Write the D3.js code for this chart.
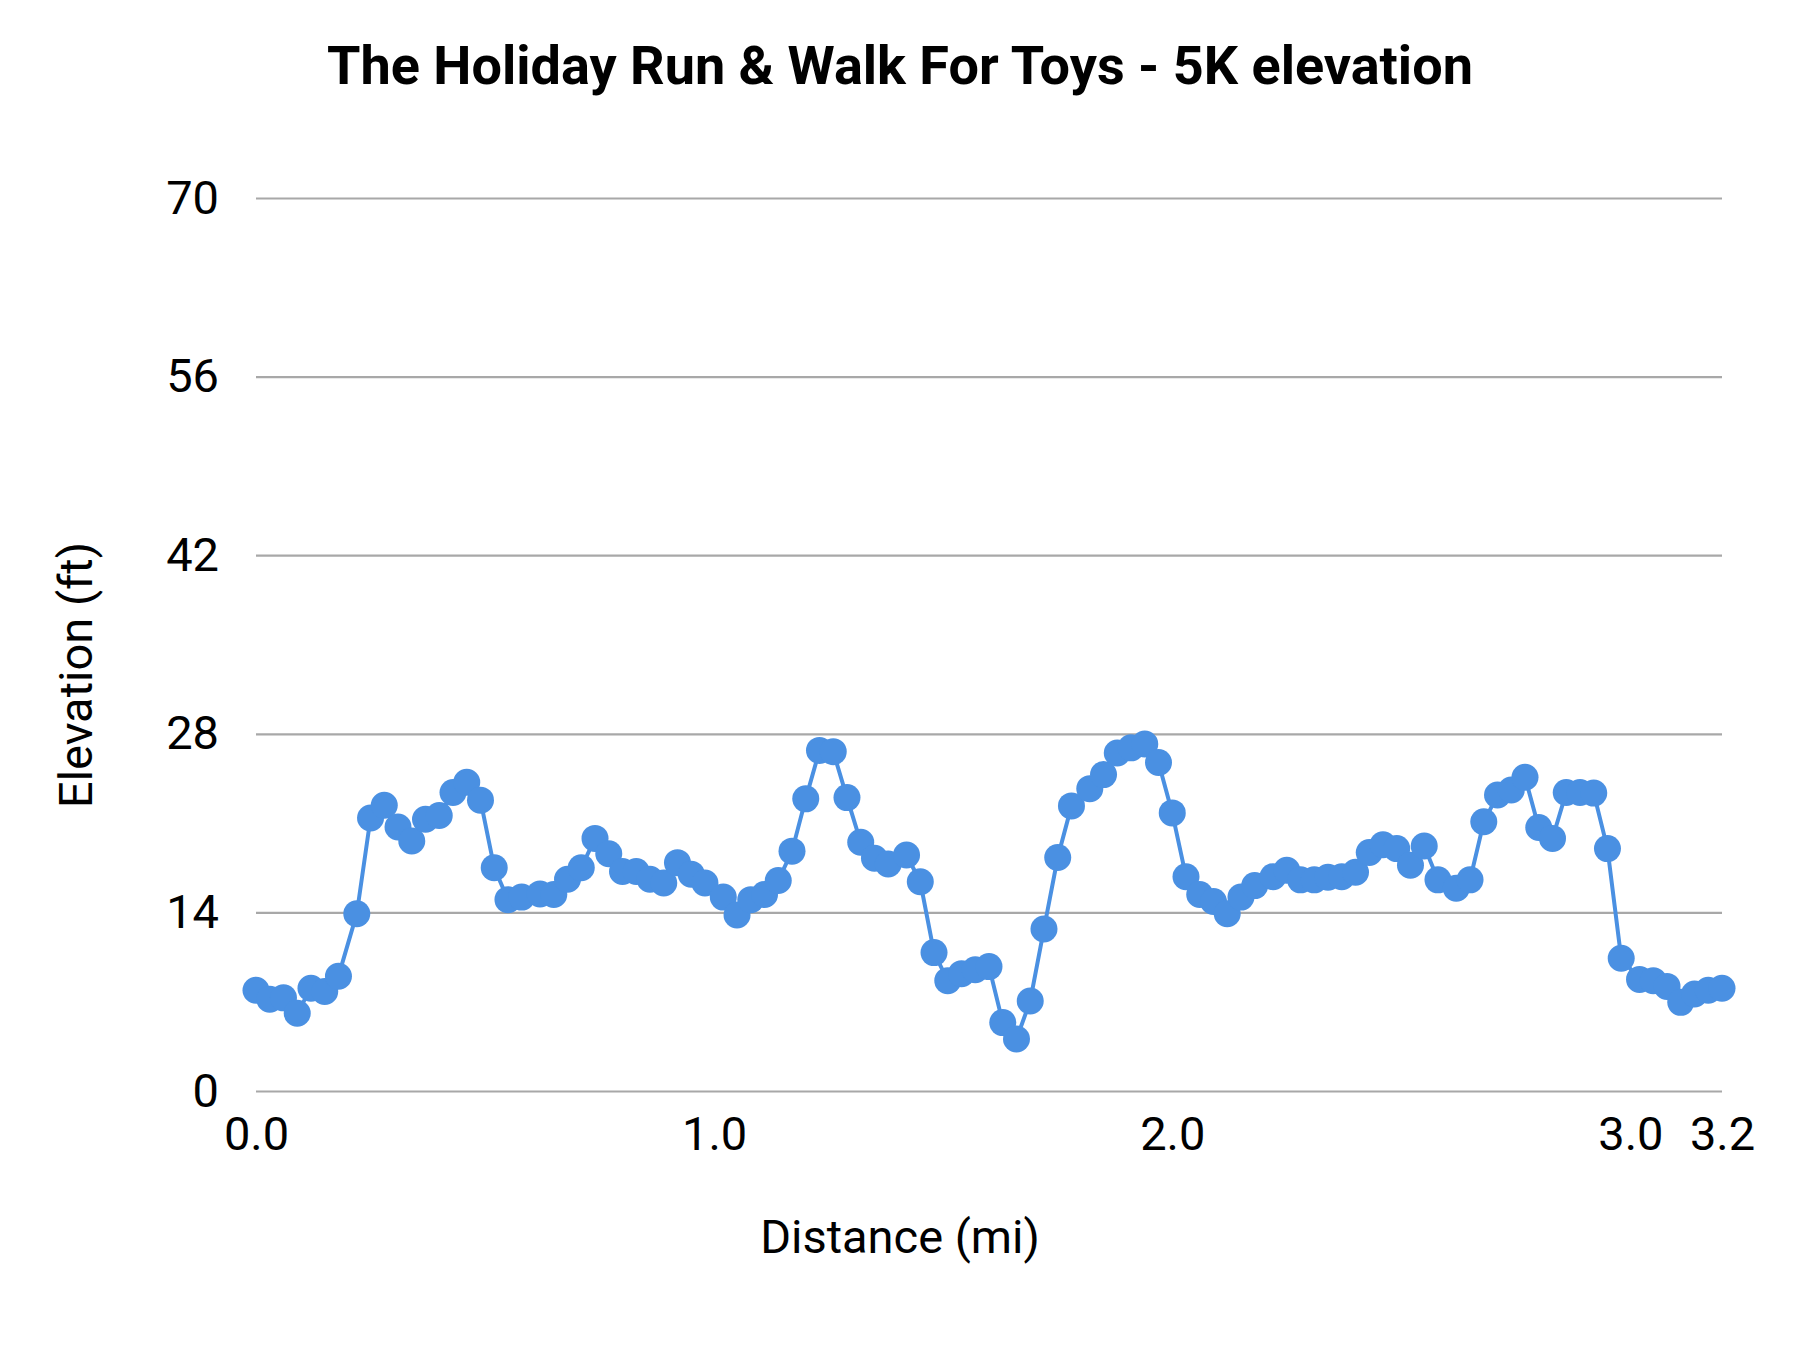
<!DOCTYPE html>
<html>
<head>
<meta charset="utf-8">
<script src="https://cdn.jsdelivr.net/npm/d3@7"></script>
<style>
  body { margin: 0; background: #fff; }
  svg { display: block; font-family: Roboto, sans-serif; }
</style>
</head>
<body>
<svg width="1800" height="1350"></svg>
<script>
// distance along the course (mi)
var distance = [
  0.00, 0.03, 0.06, 0.09, 0.12, 0.15, 0.18, 0.22, 0.25, 0.28,
  0.31, 0.34, 0.37, 0.40, 0.43, 0.46, 0.49, 0.52, 0.55, 0.58,
  0.62, 0.65, 0.68, 0.71, 0.74, 0.77, 0.80, 0.83, 0.86, 0.89,
  0.92, 0.95, 0.98, 1.02, 1.05, 1.08, 1.11, 1.14, 1.17, 1.20,
  1.23, 1.26, 1.29, 1.32, 1.35, 1.38, 1.42, 1.45, 1.48, 1.51,
  1.54, 1.57, 1.60, 1.63, 1.66, 1.69, 1.72, 1.75, 1.78, 1.82,
  1.85, 1.88, 1.91, 1.94, 1.97, 2.00, 2.03, 2.06, 2.09, 2.12,
  2.15, 2.18, 2.22, 2.25, 2.28, 2.31, 2.34, 2.37, 2.40, 2.43,
  2.46, 2.49, 2.52, 2.55, 2.58, 2.62, 2.65, 2.68, 2.71, 2.74,
  2.77, 2.80, 2.83, 2.86, 2.89, 2.92, 2.95, 2.98, 3.02, 3.05,
  3.08, 3.11, 3.14, 3.17, 3.20
];

// elevation (ft)
var elevation = [
  7.9, 7.2, 7.3, 6.1, 8.05, 7.8, 9.0, 13.9, 21.4, 22.4,
  20.7, 19.6, 21.3, 21.6, 23.4, 24.2, 22.8, 17.5, 15.0, 15.2,
  15.45, 15.4, 16.6, 17.5, 19.8, 18.6, 17.2, 17.2, 16.6, 16.3,
  17.9, 17.0, 16.3, 15.2, 13.8, 15.0, 15.4, 16.5, 18.8, 22.9,
  26.7, 26.6, 23.0, 19.5, 18.25, 17.8, 18.5, 16.4, 10.85, 8.65,
  9.2, 9.5, 9.75, 5.36, 4.08, 7.06, 12.7, 18.3, 22.35, 23.7,
  24.8, 26.5, 26.9, 27.2, 25.75, 21.8, 16.8, 15.4, 14.85, 13.9,
  15.2, 16.1, 16.8, 17.3, 16.55, 16.55, 16.75, 16.8, 17.15, 18.7,
  19.3, 19.0, 17.7, 19.2, 16.55, 15.9, 16.55, 21.1, 23.2, 23.6,
  24.6, 20.65, 19.8, 23.4, 23.4, 23.35, 19.0, 10.4, 8.75, 8.65,
  8.2, 6.95, 7.6, 7.9, 8.05
];

var xTicks = [0, 1, 2, 3, 3.2];
var yTicks = [0, 14, 28, 42, 56, 70];

var points = distance.map(function (d, i) {
  return [d, elevation[i]];
});

var svg = d3.select("svg"),
  plotLeft = 256,
  plotRight = 1722,
  plotTop = 198,
  plotBottom = 1091;

var xScale = d3.scaleLinear().domain([0, 3.2]).range([plotLeft, plotRight]),
  yScale = d3.scaleLinear().domain([0, 70]).range([plotBottom, plotTop]);

svg.append("rect").attr("width", 1800).attr("height", 1350).attr("fill", "#fff");

// Title
svg
  .append("text")
  .attr("x", 900)
  .attr("y", 84)
  .attr("text-anchor", "middle")
  .style("font-size", "54px")
  .style("font-weight", "bold")
  .text("The Holiday Run & Walk For Toys - 5K elevation");

// gridlines + y labels
var yAxis = svg.append("g")
  .attr("transform", "translate(" + plotLeft + ",0)")
  .call(d3.axisLeft(yScale).tickValues(yTicks).tickSize(-(plotRight - plotLeft)).tickPadding(37));
yAxis.select(".domain").remove();
yAxis.selectAll(".tick line").attr("stroke", "#a8a8a8").attr("stroke-width", 2.2);
yAxis.selectAll(".tick text")
  .attr("fill", "#000")
  .style("font-size", "47px")
  .style("font-family", "Roboto");

// x labels
var xAxis = svg.append("g")
  .attr("transform", "translate(0," + plotBottom + ")")
  .call(d3.axisBottom(xScale).tickValues(xTicks).tickSize(0).tickPadding(26).tickFormat(d3.format(".1f")));
xAxis.select(".domain").remove();
xAxis.selectAll(".tick text")
  .attr("fill", "#000")
  .style("font-size", "47px")
  .style("font-family", "Roboto");

// X label
svg
  .append("text")
  .attr("x", 900)
  .attr("y", 1253)
  .attr("text-anchor", "middle")
  .style("font-size", "47px")
  .text("Distance (mi)");

// Y label
svg
  .append("text")
  .attr("text-anchor", "middle")
  .attr("transform", "translate(92,675)rotate(-90)")
  .style("font-size", "47px")
  .text("Elevation (ft)");

var line = d3.line()
  .x(function (d) { return xScale(d[0]); })
  .y(function (d) { return yScale(d[1]); });

svg.append("path")
  .datum(points)
  .attr("d", line)
  .attr("fill", "none")
  .attr("stroke", "#4a90e2")
  .attr("stroke-width", 4);

svg
  .append("g")
  .selectAll("circle")
  .data(points)
  .enter()
  .append("circle")
  .attr("cx", function (d) { return xScale(d[0]); })
  .attr("cy", function (d) { return yScale(d[1]); })
  .attr("r", 13.5)
  .style("fill", "#4a90e2");
</script>
</body>
</html>
